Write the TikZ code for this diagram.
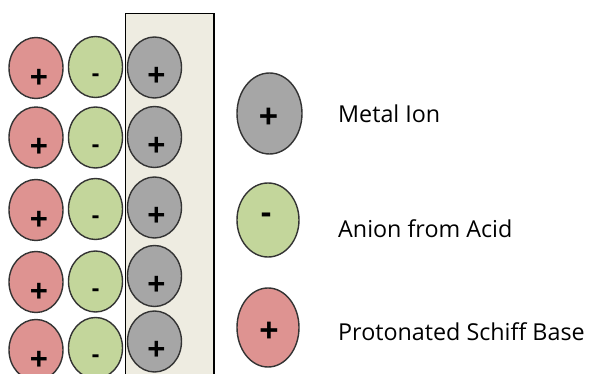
\documentclass[tikz,border=0pt]{standalone}
\usepackage{fontspec}
\setmainfont{Open Sans}
\newfontfamily\signfont{Liberation Sans}
\usetikzlibrary{shapes.geometric}
\definecolor{pinkion}{HTML}{DE9391}
\definecolor{greenion}{HTML}{C3D69B}
\definecolor{greyion}{HTML}{A6A6A6}
\definecolor{tanbg}{HTML}{EEECE1}
\definecolor{rimcol}{HTML}{333333}
\begin{document}
\begin{tikzpicture}[x=1pt,y=-1pt,
  ion/.style={ellipse,draw=rimcol,line width=1.4pt,minimum width=54pt,minimum height=61pt,inner sep=0pt},
  keyion/.style={ion,minimum width=63pt,minimum height=79pt},
  sign/.style={inner sep=0pt,font=\signfont\bfseries\fontsize{31}{31}\selectfont},
  minussign/.style={inner sep=0pt,font=\signfont\bfseries\fontsize{24}{24}\selectfont},
  keysign/.style={inner sep=0pt,font=\signfont\bfseries\fontsize{33}{33}\selectfont},
  keytext/.style={anchor=base west,inner sep=0pt,font=\fontsize{23.3}{23.3}\selectfont}]
\useasboundingbox (0,0) rectangle (590,374);
\fill[white] (0,0) rectangle (590,374);
% tan layer behind the metal ions
\draw[fill=tanbg,line width=1.3pt] (125.5,13.5) rectangle (214,380);
% rows of ions: protonated base, anion, metal ion
\foreach \i/\yr/\yg/\ym in {1/68/67/67.5,2/137.5/137.5/137,3/210/209/207.5,4/282/281.5/276,5/350/348/341.5}{
  \node[ion,fill=pinkion] (r\i) at (36,\yr) {};
  \node[sign] at ([shift={(3,10)}]r\i.center) {+};
  \node[ion,fill=greenion] (g\i) at (95.5,\yg) {};
  \node[minussign] at ([shift={(0,11)}]g\i.center) {-};
  \node[ion,fill=greyion] (m\i) at (154.5,\ym) {};
  \node[sign] at ([shift={(2,9)}]m\i.center) {+};
}
% legend
\node[keyion,fill=greyion,minimum width=65pt,minimum height=81pt] (km) at (269.5,113.5) {};
\node[keysign] at ([shift={(-1,4)}]km.center) {+};
\node[keyion,fill=greenion,minimum width=62pt,minimum height=74pt] (kg) at (268,220) {};
\node[keysign] at ([shift={(-2,-2)}]kg.center) {-};
\node[keyion,fill=pinkion,minimum width=62pt,minimum height=79pt] (kr) at (268,327.5) {};
\node[keysign] at ([shift={(1,4)}]kr.center) {+};
\node[keytext] (tm) at (338,123) {Metal Ion};
\node[keytext] (tg) at (338,238) {Anion from Acid};
\node[keytext] (tr) at (338,341) {Protonated Schiff Base};
\end{tikzpicture}
\end{document}
